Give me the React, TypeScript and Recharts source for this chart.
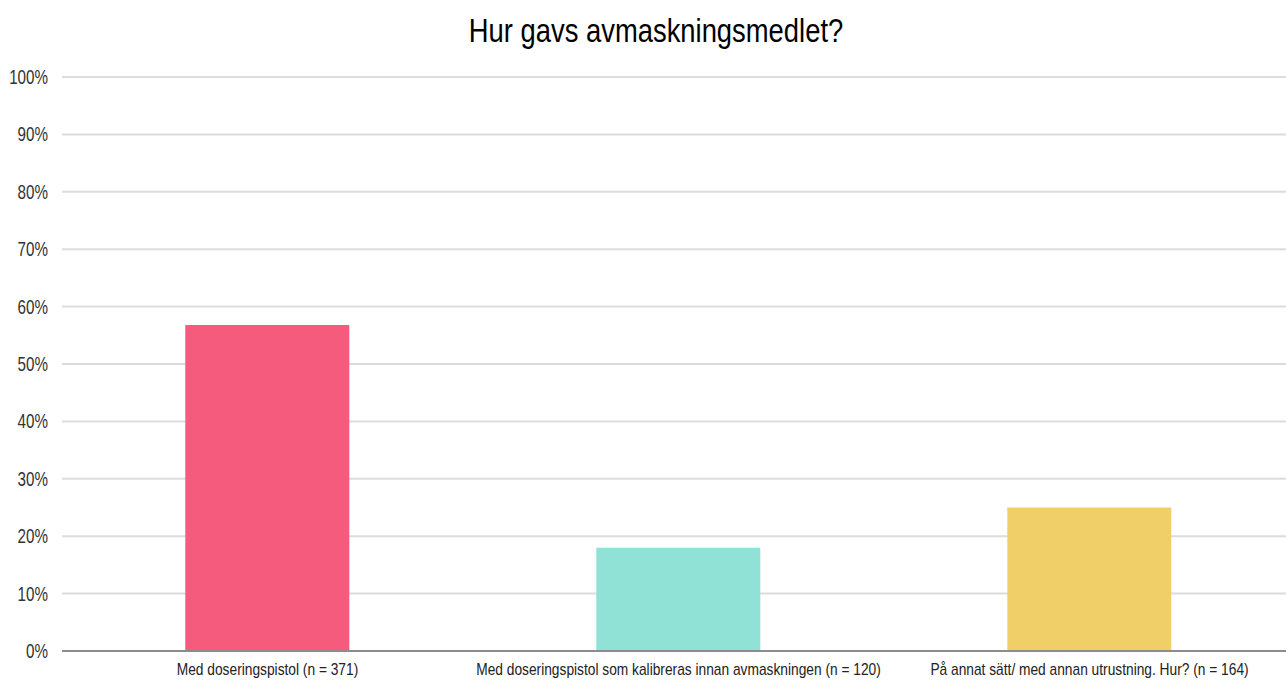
import React from "react";
import { BarChart, Bar, XAxis, YAxis, CartesianGrid, Cell } from "recharts";

// svar i procent av alla (n = 655)
const categories = [
  "Med doseringspistol (n = 371)",
  "Med doseringspistol som kalibreras innan avmaskningen (n = 120)",
  "På annat sätt/ med annan utrustning. Hur? (n = 164)",
];
const shares = [56.8, 18.0, 25.0];
const colors = ["#F45B7D", "#90E2D6", "#F0CF69"];
const yTicks = [0, 10, 20, 30, 40, 50, 60, 70, 80, 90, 100];

const FONT = '"Liberation Sans", Arial, sans-serif';

const data = categories.map((name, i) => ({ name, value: shares[i] }));

// texten i originalet är hoptryckt, så vi skalar i x-led
const XTick = (props: any) => {
  const { x, y, payload } = props;
  return (
    <g transform={`translate(${x},${y + 16})`}>
      <text transform="scale(0.86,1)" textAnchor="middle" fontSize={16} fill="#222" fontFamily={FONT}>
        {payload.value}
      </text>
    </g>
  );
};

const YTick = (props: any) => {
  const { x, y, payload } = props;
  return (
    <g transform={`translate(${x},${y + 7})`}>
      <text transform="scale(0.76,1)" textAnchor="end" fontSize={20} fill="#333" fontFamily={FONT}>
        {payload.value}%
      </text>
    </g>
  );
};

export default function App() {
  return (
    <div style={{ position: "absolute", left: 0, top: 0, width: 1286, height: 682, background: "#fff", overflow: "hidden" }}>
      <div
        style={{
          position: "absolute",
          top: 12,
          left: 0,
          width: 1286,
          textAlign: "center",
          fontFamily: FONT,
          fontSize: 33,
          color: "#000",
          transform: "translateX(13px) scaleX(0.83)",
        }}
      >
        Hur gavs avmaskningsmedlet?
      </div>
      <BarChart width={1286} height={682} data={data} margin={{ top: 77, right: -9, bottom: 0, left: 0 }} barCategoryGap="30%">
        <CartesianGrid vertical={false} stroke="#DCDCDC" strokeWidth={2} />
        <XAxis
          dataKey="name"
          tick={<XTick />}
          tickLine={false}
          axisLine={{ stroke: "#8C8C8C", strokeWidth: 2 }}
          height={31}
          interval={0}
        />
        <YAxis
          domain={[0, 100]}
          ticks={yTicks}
          tick={<YTick />}
          tickLine={false}
          axisLine={false}
          width={62}
          tickMargin={8}
        />
        <Bar dataKey="value" isAnimationActive={false}>
          {data.map((d, i) => (
            <Cell key={d.name} fill={colors[i]} />
          ))}
        </Bar>
      </BarChart>
    </div>
  );
}
